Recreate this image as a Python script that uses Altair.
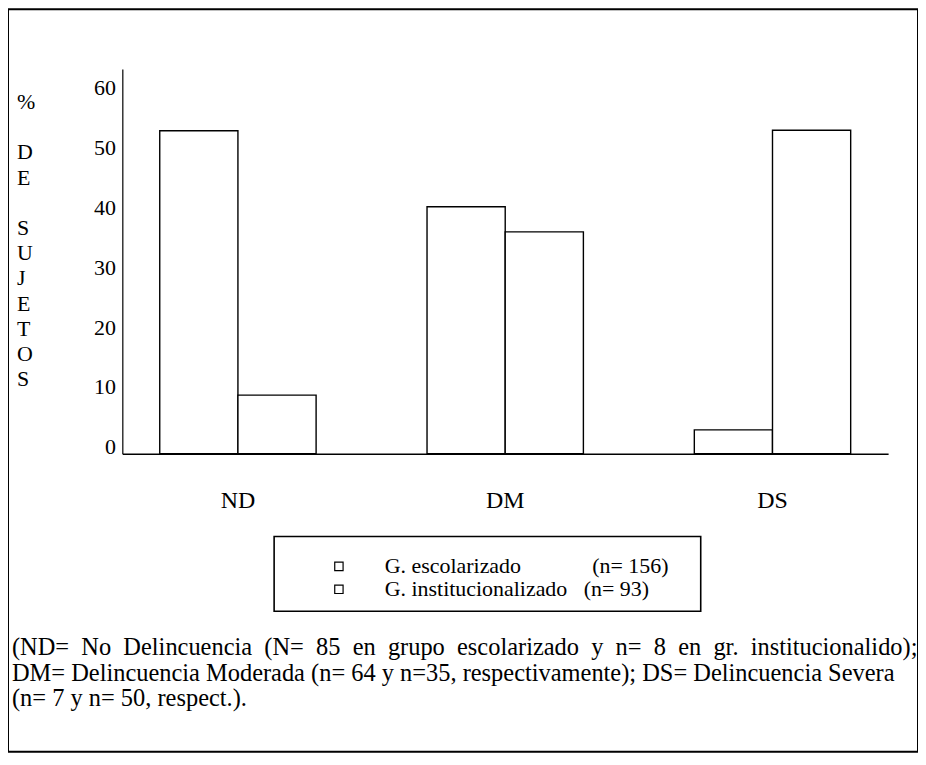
import altair as alt
import pandas as pd

# ---- data ----
categories = ["ND", "DM", "DS"]
series_names = ["G. escolarizado", "G. institucionalizado"]
series_n = [156, 93]
escolarizado = [54.0, 41.3, 4.0]
institucionalizado = [9.8, 37.1, 54.1]
y_ticks = [0, 10, 20, 30, 40, 50, 60]
y_title_lines = ["%", "", "D", "E", "", "S", "U", "J", "E", "T", "O", "S"]
note_lines = [
    "(ND= No Delincuencia (N= 85 en grupo escolarizado y n= 8 en gr. institucionalido);",
    "DM= Delincuencia Moderada (n= 64 y n=35, respectivamente); DS= Delincuencia Severa",
    "(n= 7 y n= 50, respect.).",
]

NB = "\u00a0"
label_gap = [13, 3]
legend_labels = [
    f"{name}{NB * gap}(n= {n})" for name, n, gap in zip(series_names, series_n, label_gap)
]

rows = []
for lab, vals in zip(legend_labels, [escolarizado, institucionalizado]):
    for c, v in zip(categories, vals):
        rows.append({"cat": c, "grupo": lab, "pct": v})
df = pd.DataFrame(rows)
one = pd.DataFrame({"k": [0]})

# emulate justified first line
note_disp = [note_lines[0].replace(" ", NB + " ")] + note_lines[1:]

FONT = "Liberation Serif"
W, H = 913, 745
BASE_Y = 446
AXIS_X = 114.7
TITLE_LH = 25.3
TITLE_Y0 = 100

bars = alt.Chart(df).mark_bar(fill="white", stroke="black", strokeWidth=1.4).encode(
    x=alt.X(
        "cat:N",
        sort=categories,
        scale=alt.Scale(range=[AXIS_X, 883], paddingInner=0.415, paddingOuter=0.14),
        axis=alt.Axis(
            title=None, labelAngle=0, ticks=False, tickSize=0,
            domainColor="black", domainWidth=1.6,
            labelFont=FONT, labelFontSize=24, labelColor="black",
            labelBaseline="middle", labelPadding=47,
            offset=-(H - BASE_Y),
        ),
    ),
    xOffset=alt.XOffset(
        "grupo:N", sort=legend_labels,
        scale=alt.Scale(domain=legend_labels, paddingInner=0, paddingOuter=0),
    ),
    y=alt.Y(
        "pct:Q",
        scale=alt.Scale(domain=[0, 64.33], range=[BASE_Y, 60], nice=False, zero=True),
        axis=alt.Axis(
            title=None, values=y_ticks, grid=False, ticks=False, tickSize=0,
            domainColor="black", domainWidth=1.2,
            labelFont=FONT, labelFontSize=22, labelColor="black",
            labelPadding=7, labelOffset=-7,
            offset=-AXIS_X,
        ),
    ),
    fill=alt.Fill(
        "grupo:N",
        scale=alt.Scale(domain=legend_labels, range=["white", "white"]),
        legend=alt.Legend(
            title=None, orient="none", legendX=321, legendY=548, padding=0,
            symbolType="square", symbolSize=70, symbolStrokeColor="black",
            symbolStrokeWidth=1.2, symbolFillColor="white",
            labelFont=FONT, labelFontSize=22, labelColor="black",
            labelOffset=35, rowPadding=1, labelLimit=600,
        ),
    ),
)

legend_box = alt.Chart(one).mark_rect(filled=False, stroke="black", strokeWidth=1.6).encode(
    x=alt.value(267), x2=alt.value(695), y=alt.value(529), y2=alt.value(604)
)

# vertical stacked y title: one text block per run of non-blank lines
title_layers = []
start = None
for i, t in enumerate(y_title_lines + [""]):
    if t and start is None:
        start = i
    elif not t and start is not None:
        block = y_title_lines[start:i]
        title_layers.append(
            alt.Chart(one).mark_text(
                text=block, align="left", baseline="alphabetic",
                font=FONT, fontSize=22, lineHeight=TITLE_LH, color="black",
            ).encode(x=alt.value(9), y=alt.value(TITLE_Y0 + start * TITLE_LH))
        )
        start = None

note = alt.Chart(one).mark_text(
    text=note_disp, align="left", baseline="alphabetic",
    font=FONT, fontSize=24.5, lineHeight=25.5, color="black",
).encode(x=alt.value(4), y=alt.value(648))

chart = alt.layer(bars, legend_box, *title_layers, note).properties(
    width=W, height=H,
    autosize=alt.AutoSizeParams(type="none"),
    padding=0,
    background="white",
).configure_view(stroke="black", strokeWidth=2)

chart.save("out.html", embed_options={"renderer": "svg", "actions": False})
